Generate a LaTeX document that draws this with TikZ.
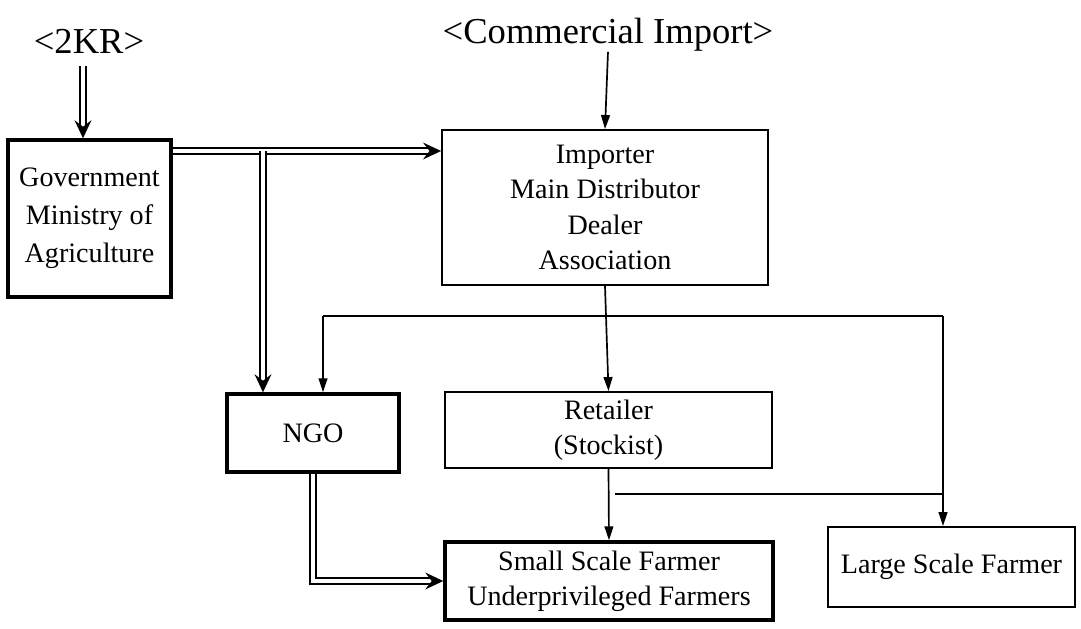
\documentclass[tikz,border=0pt]{standalone}
\usepackage{fontspec}
\setmainfont{Liberation Serif}
\usepackage{tikz}
\usetikzlibrary{shapes}
\usetikzlibrary{arrows.meta}
\tikzset{
  flownode/.style = {align=center, inner sep=0pt, text centered,
    font=\fontsize{20}{25}\selectfont},
  heavy_box/.style = {flownode, rectangle, draw=black,
    line width=2.4pt},% cadre epais
  light_box/.style = {flownode, rectangle, draw=black,
    line width=1.3pt},% cadre fin
  source_label/.style = {inner sep=0pt, font=\fontsize{26}{30}\selectfont},% origine
  single_arrow/.style = {line width=1.2pt, -{Triangle[length=3.5mm, width=2.2mm]}},
  double_arrow/.style = {double, double distance=2.4pt, line width=1.4pt,
    -{Stealth[length=4.5mm, width=4.2mm, inset=1.6mm]}},% fleche double
  plain_link/.style = {line width=1.2pt}
}

\begin{document}
\begin{tikzpicture}[x=0.25mm, y=-0.25mm]
      \useasboundingbox (0,0) rectangle (1081,629);
      % sources
      \node [source_label] (kr) at (89,41) {<2KR>};
      \node [source_label] (commercial) at (608,35) {<Commercial Import>};
      % boites
      \node [heavy_box, minimum width=40.75mm, minimum height=39.25mm,
        font=\fontsize{20}{27}\selectfont] (gov) at (89.5,218.5)
        {Government\\Ministry of\\Agriculture};
      \node [light_box, minimum width=81.5mm, minimum height=38.75mm] (importer)
        at (605,207.5) {Importer\\Main Distributor\\Dealer\\Association};
      \node [heavy_box, minimum width=43mm, minimum height=19.5mm] (ngo)
        at (313,433) {NGO};
      \node [light_box, minimum width=81.75mm, minimum height=19mm] (retailer)
        at (608.5,430) {Retailer\\(Stockist)};
      \node [heavy_box, minimum width=82mm, minimum height=19.5mm] (small)
        at (609,581) {Small Scale Farmer\\Underprivileged Farmers};
      \node [light_box, minimum width=61.75mm, minimum height=20mm] (large)
        at (951.5,567) {Large Scale Farmer};
      % points de jonction
      \coordinate (krout) at (83,66);
      \coordinate (govout) at (171,151);
      \coordinate (govsplit) at (263,151);
      \coordinate (splitleft) at (323,316);
      \coordinate (splitright) at (943,316);
      \coordinate (retside) at (615,494);
      % liaisons
      \draw [double_arrow] (krout) -- (krout |- gov.north);
      \draw [double_arrow] (gov.east |- govout) -- (importer.west |- govout);
      \draw [double_arrow] (govsplit) -- (govsplit |- ngo.north);
      \draw [single_arrow] (commercial.south) -- (importer.north);
      \draw [single_arrow] (importer.south) -- (retailer.north);
      \draw [plain_link] (splitleft) -- (splitright);
      \draw [single_arrow] (splitleft) -- (splitleft |- ngo.north);
      \draw [single_arrow] (splitright) -- (splitright |- large.north);
      \draw [single_arrow] (retailer.south) -- (small.north);
      \draw [plain_link] (retside) -- (splitright |- retside);
      \draw [double_arrow] (ngo.south) |- (small.west);
\end{tikzpicture}
\end{document}
